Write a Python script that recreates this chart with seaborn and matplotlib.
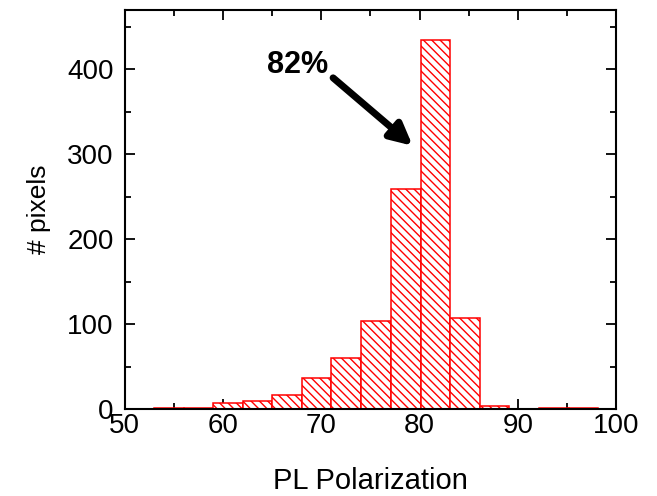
import matplotlib
matplotlib.use("Agg")
import matplotlib.pyplot as plt
import seaborn as sns
import numpy as np
from matplotlib.ticker import MultipleLocator

sns.set_style("ticks")
plt.rcParams['font.family'] = ['Liberation Sans', 'DejaVu Sans']
plt.rcParams['hatch.color'] = 'red'
plt.rcParams['hatch.linewidth'] = 1.0
plt.rcParams['text.color'] = 'black'
plt.rcParams['axes.labelcolor'] = 'black'
plt.rcParams['xtick.color'] = 'black'
plt.rcParams['ytick.color'] = 'black'

# data
bin_edges = [53.0, 56.0, 59.0, 62.0, 65.0, 68.0, 71.0, 74.05, 77.1, 80.1, 83.15, 86.2, 89.15, 92.15, 95.2, 98.2]
counts = [1, 1, 7, 10, 17, 37, 60, 104, 259, 435, 107, 3, 0, 1, 1]
bin_centers = [(a + b) / 2 for a, b in zip(bin_edges[:-1], bin_edges[1:])]
x_label = "PL Polarization"
y_label = "# pixels"
annot_text = "82%"

fig = plt.figure(figsize=(6.57, 4.96), dpi=100)
ax = fig.add_axes([0.19, 0.1754, 0.7476, 0.8046])

sns.histplot(x=bin_centers, weights=counts, bins=bin_edges, ax=ax,
             fill=True, facecolor='white', edgecolor='red', linewidth=1.1,
             hatch='\\\\\\\\', alpha=1.0)

ax.set_xlim(50, 100)
ax.set_ylim(0, 470)
ax.xaxis.set_major_locator(MultipleLocator(10))
ax.xaxis.set_minor_locator(MultipleLocator(5))
ax.yaxis.set_major_locator(MultipleLocator(100))
ax.yaxis.set_minor_locator(MultipleLocator(50))
ax.tick_params(which='both', direction='in', top=True, right=True, width=1.3, color='black')
ax.tick_params(which='major', length=7, labelsize=20)
ax.tick_params(axis='x', which='major', pad=3)
ax.tick_params(axis='y', which='major', pad=8)
ax.tick_params(which='minor', length=4)
for s in ax.spines.values():
    s.set_visible(True)
    s.set_linewidth(1.5)
    s.set_color('black')

ax.set_xlabel(x_label, fontsize=21, labelpad=20)
ax.set_ylabel(y_label, fontsize=19, labelpad=12)

ax.text(64.5, 405, annot_text, fontsize=22, fontweight='bold', ha='left', va='center')
ax.annotate('', xy=(79.3, 310), xytext=(71.2, 390),
            arrowprops=dict(arrowstyle='-|>,head_length=1.3,head_width=0.65',
                            lw=5, color='black', shrinkA=0, shrinkB=0))

fig.savefig("out.png", dpi=100)
